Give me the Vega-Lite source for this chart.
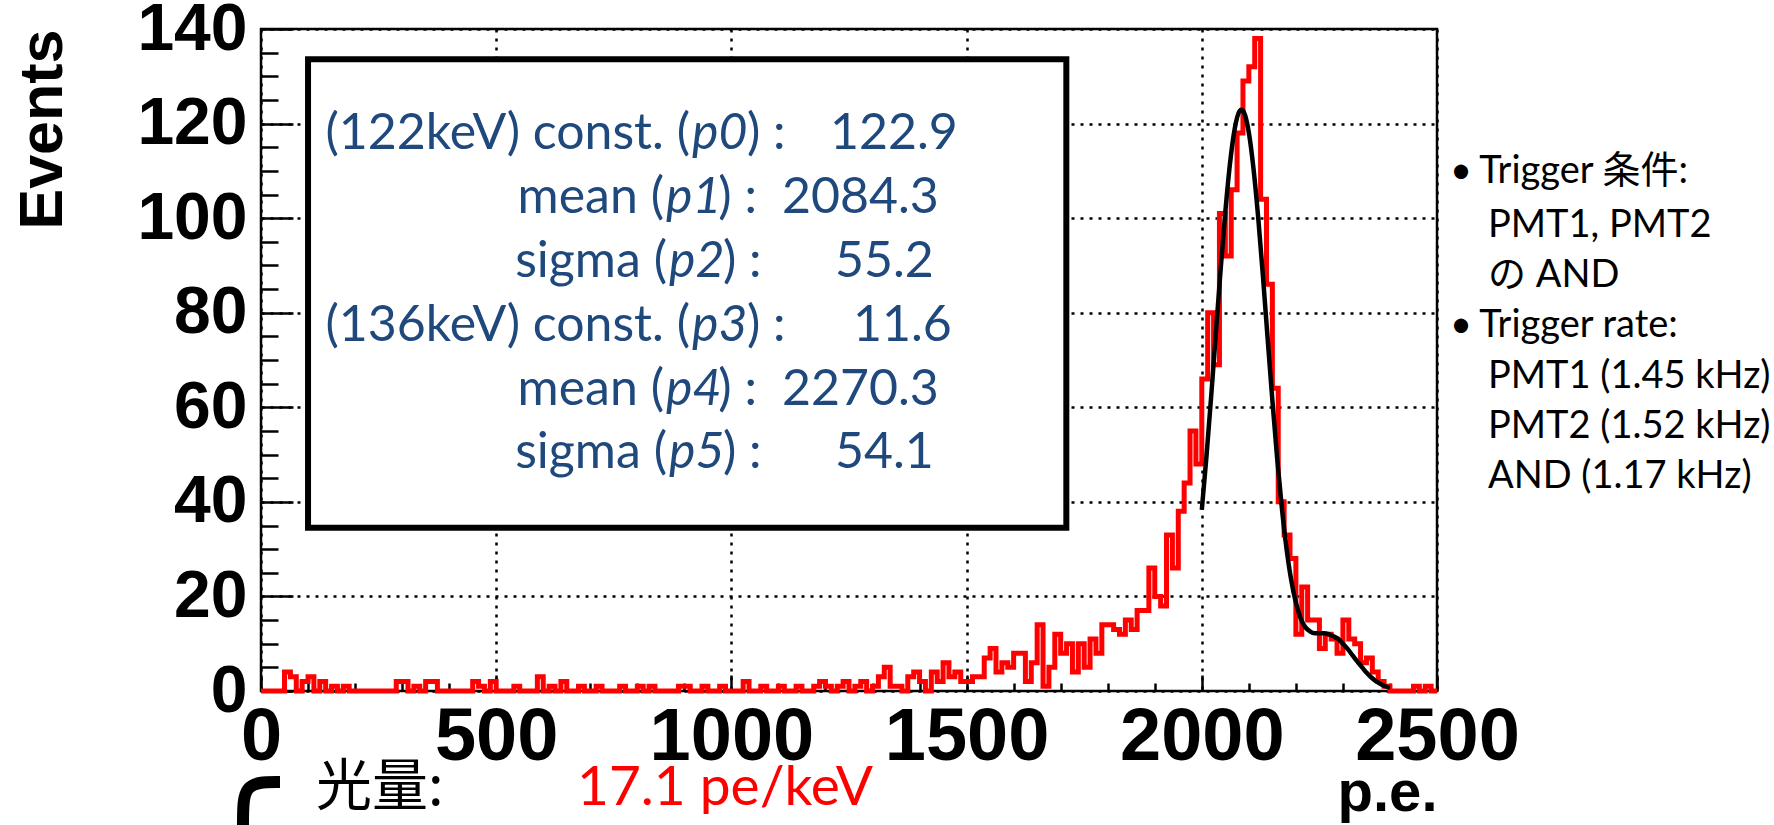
{
  "$schema": "https://vega.github.io/schema/vega-lite/v6.json",
  "width": 1176,
  "height": 662,
  "autosize": {"type": "none"},
  "padding": {"left": 261, "top": 29, "right": 337, "bottom": 134},
  "background": "white",
  "config": {"view": {"stroke": "black", "strokeWidth": 2.5}},
  "encoding": {
    "x": {
      "field": "pe", "type": "quantitative",
      "scale": {"domain": [0, 2500], "nice": false, "zero": false},
      "axis": {
        "title": "p.e.",
        "values": [0,100,200,300,400,500,600,700,800,900,1000,1100,1200,1300,1400,1500,1600,1700,1800,1900,2000,2100,2200,2300,2400,2500],
        "format": "d",
        "labelExpr": "datum.value % 500 === 0 ? datum.label : ''",
        "labelFont": "Liberation Sans", "labelFontWeight": "bold", "labelFontSize": 74, "labelColor": "black",
        "labelPadding": 26, "labelFlush": false, "labelOverlap": false, "labelBound": false,
        "tickSize": {"condition": {"test": "datum.value % 500 === 0", "value": -16}, "value": -8},
        "tickColor": "black", "tickWidth": 2.5,
        "domain": false,
        "grid": true, "gridColor": "black", "gridWidth": 2.5, "gridDash": [3, 6],
        "gridOpacity": {"condition": {"test": "datum.value % 500 === 0", "value": 1}, "value": 0},
        "titleFont": "Liberation Sans", "titleFontWeight": "bold", "titleFontSize": 58, "titleColor": "black",
        "titleAnchor": "end", "titleBaseline": "alphabetic", "titleY": 119
      }
    },
    "y": {
      "field": "events", "type": "quantitative",
      "scale": {"domain": [0, 140], "nice": false, "zero": false},
      "axis": {
        "title": "Events",
        "values": [0,5,10,15,20,25,30,35,40,45,50,55,60,65,70,75,80,85,90,95,100,105,110,115,120,125,130,135,140],
        "format": "d",
        "labelExpr": "datum.value % 20 === 0 ? datum.label : ''",
        "labelFont": "Liberation Sans", "labelFontWeight": "bold", "labelFontSize": 66, "labelColor": "black",
        "labelPadding": 46, "labelFlush": false, "labelOverlap": false, "labelBound": false,
        "tickSize": {"condition": {"test": "datum.value % 20 === 0", "value": -32}, "value": -17},
        "tickColor": "black", "tickWidth": 2.5,
        "domain": false,
        "grid": true, "gridColor": "black", "gridWidth": 2.5, "gridDash": [3, 6],
        "gridOpacity": {"condition": {"test": "datum.value % 20 === 0", "value": 1}, "value": 0},
        "titleFont": "Liberation Sans", "titleFontWeight": "bold", "titleFontSize": 61, "titleColor": "black",
        "titleAnchor": "end", "titlePadding": 62
      }
    }
  },
  "layer": [
    {
      "data": {"values": [{"pe": 100, "pe2": 1712, "events": 133.6, "events2": 34.5}]},
      "mark": {"type": "rect", "fill": "white", "stroke": "black", "strokeWidth": 6},
      "encoding": {"x2": {"field": "pe2"}, "y2": {"field": "events2"}}
    },
    {
      "data": {"values": [
        {"pe":0,"events":0},{"pe":12.5,"events":0},{"pe":25,"events":0},{"pe":37.5,"events":0},{"pe":50,"events":4},
        {"pe":62.5,"events":3},{"pe":75,"events":0},{"pe":87.5,"events":2},{"pe":100,"events":3},{"pe":112.5,"events":0},
        {"pe":125,"events":2},{"pe":137.5,"events":0},{"pe":150,"events":1},{"pe":162.5,"events":0},{"pe":175,"events":1},
        {"pe":187.5,"events":0},{"pe":200,"events":0},{"pe":212.5,"events":0},{"pe":225,"events":0},{"pe":237.5,"events":0},
        {"pe":250,"events":0},{"pe":262.5,"events":0},{"pe":275,"events":0},{"pe":287.5,"events":2},{"pe":300,"events":2},
        {"pe":312.5,"events":0},{"pe":325,"events":1},{"pe":337.5,"events":0},{"pe":350,"events":2},{"pe":362.5,"events":2},
        {"pe":375,"events":0},{"pe":387.5,"events":0},{"pe":400,"events":0},{"pe":412.5,"events":0},{"pe":425,"events":0},
        {"pe":437.5,"events":0},{"pe":450,"events":2},{"pe":462.5,"events":1},{"pe":475,"events":0},{"pe":487.5,"events":2},
        {"pe":500,"events":0},{"pe":512.5,"events":0},{"pe":525,"events":0},{"pe":537.5,"events":1},{"pe":550,"events":0},
        {"pe":562.5,"events":0},{"pe":575,"events":0},{"pe":587.5,"events":3},{"pe":600,"events":0},{"pe":612.5,"events":1},
        {"pe":625,"events":0},{"pe":637.5,"events":2},{"pe":650,"events":0},{"pe":662.5,"events":0},{"pe":675,"events":1},
        {"pe":687.5,"events":0},{"pe":700,"events":0},{"pe":712.5,"events":1},{"pe":725,"events":0},{"pe":737.5,"events":0},
        {"pe":750,"events":0},{"pe":762.5,"events":1},{"pe":775,"events":0},{"pe":787.5,"events":0},{"pe":800,"events":1},
        {"pe":812.5,"events":0},{"pe":825,"events":1},{"pe":837.5,"events":0},{"pe":850,"events":0},{"pe":862.5,"events":0},
        {"pe":875,"events":0},{"pe":887.5,"events":1},{"pe":900,"events":1},{"pe":912.5,"events":0},{"pe":925,"events":0},
        {"pe":937.5,"events":1},{"pe":950,"events":0},{"pe":962.5,"events":0},{"pe":975,"events":1},{"pe":987.5,"events":0},
        {"pe":1000,"events":0},{"pe":1012.5,"events":0},{"pe":1025,"events":2},{"pe":1037.5,"events":0},{"pe":1050,"events":0},
        {"pe":1062.5,"events":1},{"pe":1075,"events":0},{"pe":1087.5,"events":0},{"pe":1100,"events":1},{"pe":1112.5,"events":0},
        {"pe":1125,"events":0},{"pe":1137.5,"events":1},{"pe":1150,"events":0},{"pe":1162.5,"events":0},{"pe":1175,"events":1},
        {"pe":1187.5,"events":2},{"pe":1200,"events":1},{"pe":1212.5,"events":0},{"pe":1225,"events":1},{"pe":1237.5,"events":2},
        {"pe":1250,"events":0},{"pe":1262.5,"events":1},{"pe":1275,"events":2},{"pe":1287.5,"events":0},{"pe":1300,"events":1},
        {"pe":1312.5,"events":3},{"pe":1325,"events":5},{"pe":1337.5,"events":1},{"pe":1350,"events":1},{"pe":1362.5,"events":0},
        {"pe":1375,"events":3},{"pe":1387.5,"events":4},{"pe":1400,"events":2},{"pe":1412.5,"events":0},{"pe":1425,"events":4},
        {"pe":1437.5,"events":2},{"pe":1450,"events":6},{"pe":1462.5,"events":3},{"pe":1475,"events":4},{"pe":1487.5,"events":2},
        {"pe":1500,"events":2},{"pe":1512.5,"events":3},{"pe":1525,"events":3},{"pe":1537.5,"events":7},{"pe":1550,"events":9},
        {"pe":1562.5,"events":4},{"pe":1575,"events":6},{"pe":1587.5,"events":5},{"pe":1600,"events":8},{"pe":1612.5,"events":8},
        {"pe":1625,"events":2},{"pe":1637.5,"events":6},{"pe":1650,"events":14},{"pe":1662.5,"events":1},{"pe":1675,"events":5},
        {"pe":1687.5,"events":12},{"pe":1700,"events":8},{"pe":1712.5,"events":10},{"pe":1725,"events":4},{"pe":1737.5,"events":10},
        {"pe":1750,"events":5},{"pe":1762.5,"events":11},{"pe":1775,"events":8},{"pe":1787.5,"events":14},{"pe":1800,"events":14},
        {"pe":1812.5,"events":13},{"pe":1825,"events":12},{"pe":1837.5,"events":15},{"pe":1850,"events":13},{"pe":1862.5,"events":17},
        {"pe":1875,"events":17},{"pe":1887.5,"events":26},{"pe":1900,"events":20},{"pe":1912.5,"events":18},{"pe":1925,"events":33},
        {"pe":1937.5,"events":26},{"pe":1950,"events":38},{"pe":1962.5,"events":44},{"pe":1975,"events":55},{"pe":1987.5,"events":48},
        {"pe":2000,"events":66},{"pe":2012.5,"events":80},{"pe":2025,"events":69},{"pe":2037.5,"events":101},{"pe":2050,"events":92},
        {"pe":2062.5,"events":106},{"pe":2075,"events":118},{"pe":2087.5,"events":129},{"pe":2100,"events":132},{"pe":2112.5,"events":138},
        {"pe":2125,"events":104},{"pe":2137.5,"events":86},{"pe":2150,"events":64},{"pe":2162.5,"events":40},{"pe":2175,"events":33},
        {"pe":2187.5,"events":28},{"pe":2200,"events":12},{"pe":2212.5,"events":22},{"pe":2225,"events":15},{"pe":2237.5,"events":15},
        {"pe":2250,"events":9},{"pe":2262.5,"events":12},{"pe":2275,"events":11},{"pe":2287.5,"events":8},{"pe":2300,"events":15},
        {"pe":2312.5,"events":11},{"pe":2325,"events":10},{"pe":2337.5,"events":6},{"pe":2350,"events":7},{"pe":2362.5,"events":4},
        {"pe":2375,"events":2},{"pe":2387.5,"events":1},{"pe":2400,"events":0},{"pe":2412.5,"events":0},{"pe":2425,"events":0},
        {"pe":2437.5,"events":0},{"pe":2450,"events":1},{"pe":2462.5,"events":0},{"pe":2475,"events":1},{"pe":2487.5,"events":0},
        {"pe":2500,"events":0}
      ]},
      "mark": {"type": "line", "interpolate": "step-after", "color": "#ff0000", "strokeWidth": 5},
      "encoding": {}
    },
    {
      "data": {"values": [
        {"pe":2000,"events":38.3},{"pe":2010,"events":49.7},{"pe":2020,"events":62.4},{"pe":2030,"events":75.8},
        {"pe":2040,"events":89.1},{"pe":2050,"events":101.3},{"pe":2060,"events":111.6},{"pe":2070,"events":118.9},
        {"pe":2080,"events":122.6},{"pe":2084.3,"events":122.9},{"pe":2090,"events":122.3},{"pe":2100,"events":118.1},
        {"pe":2110,"events":110.4},{"pe":2120,"events":100.0},{"pe":2130,"events":87.7},{"pe":2140,"events":74.5},
        {"pe":2150,"events":61.5},{"pe":2160,"events":49.4},{"pe":2170,"events":38.9},{"pe":2180,"events":30.2},
        {"pe":2190,"events":23.5},{"pe":2200,"events":18.7},{"pe":2210,"events":15.4},{"pe":2220,"events":13.5},
        {"pe":2230,"events":12.6},{"pe":2240,"events":12.2},{"pe":2250,"events":12.2},{"pe":2260,"events":12.2},
        {"pe":2270,"events":12.0},{"pe":2280,"events":11.6},{"pe":2290,"events":11.0},{"pe":2300,"events":10.0},
        {"pe":2310,"events":8.9},{"pe":2320,"events":7.6},{"pe":2330,"events":6.3},{"pe":2340,"events":5.1},
        {"pe":2350,"events":3.9},{"pe":2360,"events":2.9},{"pe":2370,"events":2.1},{"pe":2380,"events":1.5},
        {"pe":2390,"events":1.0},{"pe":2400,"events":0.7}
      ]},
      "mark": {"type": "line", "interpolate": "monotone", "color": "black", "strokeWidth": 4.5},
      "encoding": {}
    },
    {
      "data": {"values": [
        {"pe": 912.0, "events": 114.62, "text": "(122keV) const. ("},
        {"pe": 856.7, "events": 101.09, "text": "mean ("},
        {"pe": 863.1, "events": 87.55, "text": "sigma ("},
        {"pe": 912.0, "events": 74.02, "text": "(136keV) const. ("},
        {"pe": 856.7, "events": 60.48, "text": "mean ("},
        {"pe": 863.1, "events": 47.16, "text": "sigma ("}
      ]},
      "mark": {"type": "text", "align": "right", "baseline": "alphabetic", "font": "Lato", "fontSize": 50, "color": "#1F497D"},
      "encoding": {"text": {"field": "text"}}
    },
    {
      "data": {"values": [
        {"pe": 916.2, "events": 114.62, "text": "p0"},
        {"pe": 861.0, "events": 101.09, "text": "p1"},
        {"pe": 867.3, "events": 87.55, "text": "p2"},
        {"pe": 916.2, "events": 74.02, "text": "p3"},
        {"pe": 861.0, "events": 60.48, "text": "p4"},
        {"pe": 867.3, "events": 47.16, "text": "p5"}
      ]},
      "mark": {"type": "text", "align": "left", "baseline": "alphabetic", "font": "Lato", "fontStyle": "italic", "fontSize": 50, "color": "#1F497D"},
      "encoding": {"text": {"field": "text"}}
    },
    {
      "data": {"values": [
        {"pe": 1033.0, "events": 114.62, "text": ") :"},
        {"pe": 972.0, "events": 101.09, "text": ")  :"},
        {"pe": 982.0, "events": 87.55, "text": ") :"},
        {"pe": 1033.0, "events": 74.02, "text": ") :"},
        {"pe": 972.0, "events": 60.48, "text": ")  :"},
        {"pe": 982.0, "events": 47.16, "text": ") :"},
        {"pe": 1209.6, "events": 114.62, "text": "122.9"},
        {"pe": 1107.6, "events": 101.09, "text": "2084.3"},
        {"pe": 1220.2, "events": 87.55, "text": "55.2"},
        {"pe": 1258.5, "events": 74.02, "text": "11.6"},
        {"pe": 1107.6, "events": 60.48, "text": "2270.3"},
        {"pe": 1220.2, "events": 47.16, "text": "54.1"}
      ]},
      "mark": {"type": "text", "align": "left", "baseline": "alphabetic", "font": "Lato", "fontSize": 50, "color": "#1F497D"},
      "encoding": {"text": {"field": "text"}}
    },
    {
      "data": {"values": [
        {"pe": 2527.6, "events": 107.43, "text": "•"},
        {"pe": 2590.0, "events": 107.43, "text": "Trigger 条件:"},
        {"pe": 2608.4, "events": 96.01, "text": "PMT1, PMT2"},
        {"pe": 2608.4, "events": 85.44, "text": "の AND"},
        {"pe": 2527.6, "events": 74.86, "text": "•"},
        {"pe": 2590.0, "events": 74.86, "text": "Trigger rate:"},
        {"pe": 2608.4, "events": 64.08, "text": "PMT1 (1.45 kHz)"},
        {"pe": 2608.4, "events": 53.50, "text": "PMT2 (1.52 kHz)"},
        {"pe": 2608.4, "events": 42.93, "text": "AND (1.17 kHz)"}
      ]},
      "mark": {"type": "text", "align": "left", "baseline": "alphabetic", "font": "Lato, 'Noto Sans CJK JP', sans-serif", "fontSize": 38, "color": "black"},
      "encoding": {"text": {"field": "text"}}
    },
    {
      "data": {"values": [{"pe": 116.9, "events": -24.11, "text": "光量:"}]},
      "mark": {"type": "text", "align": "left", "baseline": "alphabetic", "font": "'Noto Sans CJK JP', sans-serif", "fontSize": 56, "color": "black"},
      "encoding": {"text": {"field": "text"}}
    },
    {
      "data": {"values": [{"pe": 671.8, "events": -24.11, "text": "17.1 pe/keV"}]},
      "mark": {"type": "text", "align": "left", "baseline": "alphabetic", "font": "Lato", "fontSize": 55, "color": "#ff0000"},
      "encoding": {"text": {"field": "text"}}
    },
    {
      "data": {"values": [
        {"i": 1, "pe": 40.4, "events": -19.24},
        {"i": 2, "pe": -6.4, "events": -19.24},
        {"i": 3, "pe": -29.8, "events": -20.51},
        {"i": 4, "pe": -38.3, "events": -23.05},
        {"i": 5, "pe": -38.3, "events": -29.4}
      ]},
      "mark": {"type": "line", "interpolate": "basis", "color": "black", "strokeWidth": 12, "strokeCap": "butt"},
      "encoding": {"order": {"field": "i", "type": "quantitative"}}
    }
  ]
}
